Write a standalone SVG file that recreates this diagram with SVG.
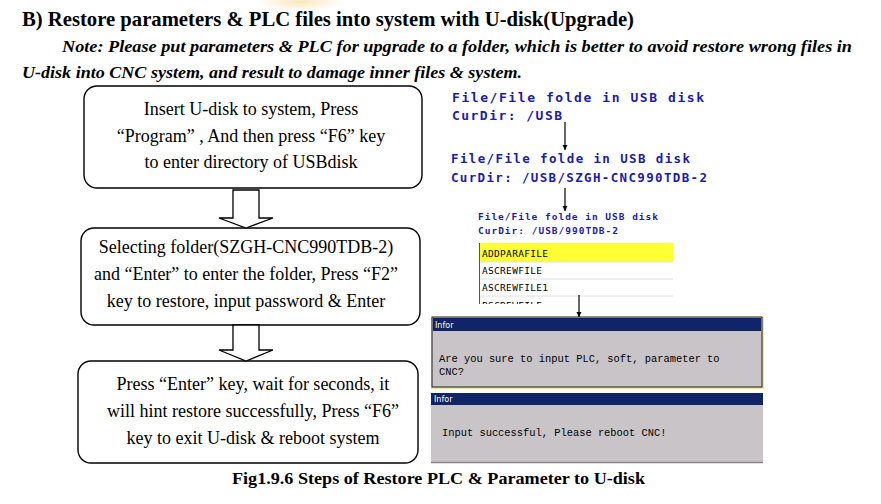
<svg xmlns="http://www.w3.org/2000/svg" width="881" height="504" viewBox="0 0 881 504">
<defs>
<style>
.hd{font-family:"Liberation Serif",serif;font-weight:bold;fill:#000}
.note{font-family:"Liberation Serif",serif;font-weight:bold;font-style:italic;font-size:17px;fill:#000}
.box{fill:#fff;stroke:#000;stroke-width:1.4}
.bt{font-family:"Liberation Serif",serif;font-size:18px;fill:#000;text-anchor:middle}
.blk{fill:#fff;stroke:#000;stroke-width:1.3}
.mono{font-family:"DejaVu Sans Mono",monospace;font-weight:bold;fill:#1c1ca8}
.lst{font-family:"DejaVu Sans Mono",monospace;font-size:9.5px;fill:#000}
.dlg{font-family:"Liberation Mono",monospace;font-size:10.4px;fill:#000}
.inf{font-family:"DejaVu Sans",sans-serif;font-size:8px;fill:#fff}
.con{stroke:#000;stroke-width:1.2;fill:none;marker-end:url(#ah)}
</style>
<marker id="ah" viewBox="0 0 10 10" refX="10" refY="5" markerWidth="5" markerHeight="6" orient="auto" markerUnits="userSpaceOnUse">
<path d="M0,0 L10,5 L0,10 z" fill="#000"/>
</marker>
<clipPath id="lc"><rect x="478" y="242" width="200" height="62"/></clipPath>
<radialGradient id="wm" cx="0.5" cy="0.5" r="0.5">
<stop offset="0" stop-color="#f8d890" stop-opacity="0.6"/>
<stop offset="1" stop-color="#f8d890" stop-opacity="0"/>
</radialGradient>
</defs>
<rect width="881" height="504" fill="#fff"/>
<ellipse cx="300" cy="2" rx="45" ry="9" fill="url(#wm)"/>

<g id="title">
<text class="hd" x="22" y="26" font-size="21" textLength="612" lengthAdjust="spacingAndGlyphs">B) Restore parameters &amp; PLC files into system with U-disk(Upgrade)</text>
<text class="note" x="62" y="52" textLength="790" lengthAdjust="spacingAndGlyphs">Note: Please put parameters &amp; PLC for upgrade to a folder, which is better to avoid restore wrong files in</text>
<text class="note" x="22" y="78" textLength="500" lengthAdjust="spacingAndGlyphs">U-disk into CNC system, and result to damage inner files &amp; system.</text>
</g>

<g id="step1">
<rect class="box" x="84" y="86" width="338" height="102" rx="13"/>
<text class="bt" x="251" y="115">Insert U-disk to system, Press</text>
<text class="bt" x="251" y="142">“Program” , And then press “F6” key</text>
<text class="bt" x="251" y="168">to enter directory of USBdisk</text>
</g>

<g id="step2">
<rect class="box" x="81" y="228" width="339" height="97" rx="13"/>
<text class="bt" x="246" y="253">Selecting folder(SZGH-CNC990TDB-2)</text>
<text class="bt" x="246" y="280">and “Enter” to enter the folder, Press “F2”</text>
<text class="bt" x="246" y="307">key to restore, input password &amp; Enter</text>
</g>

<g id="step3">
<rect class="box" x="78" y="361" width="340" height="102" rx="13"/>
<text class="bt" x="253" y="390">Press “Enter” key, wait for seconds, it</text>
<text class="bt" x="253" y="417">will hint restore successfully, Press “F6”</text>
<text class="bt" x="253" y="444">key to exit U-disk &amp; reboot system</text>
</g>

<g id="screen1">
<text class="mono" x="452" y="102" font-size="13" textLength="252" lengthAdjust="spacing">File/File folde in USB disk</text>
<text class="mono" x="452" y="120" font-size="13" textLength="110" lengthAdjust="spacing">CurDir: /USB</text>
</g>

<g id="screen2">
<text class="mono" x="451" y="163" font-size="12.5" textLength="239" lengthAdjust="spacing">File/File folde in USB disk</text>
<text class="mono" x="451" y="182" font-size="12.5" textLength="256" lengthAdjust="spacing">CurDir: /USB/SZGH-CNC990TDB-2</text>
</g>

<g id="screen3">
<text class="mono" x="478" y="220" font-size="9.5" textLength="180" lengthAdjust="spacing">File/File folde in USB disk</text>
<text class="mono" x="478" y="234" font-size="9.5" textLength="140" lengthAdjust="spacing">CurDir: /USB/990TDB-2</text>
<g clip-path="url(#lc)">
<rect x="479" y="243" width="194" height="19" fill="#ffff33"/>
<line x1="479" y1="262" x2="673" y2="262" stroke="#e0e0e0"/>
<line x1="479" y1="279" x2="673" y2="279" stroke="#e0e0e0"/>
<line x1="479" y1="296" x2="673" y2="296" stroke="#e0e0e0"/>
<line x1="479.5" y1="243" x2="479.5" y2="304" stroke="#555"/>
<text class="lst" x="482" y="257" textLength="66" lengthAdjust="spacing">ADDPARAFILE</text>
<text class="lst" x="482" y="274" textLength="60" lengthAdjust="spacing">ASCREWFILE</text>
<text class="lst" x="482" y="291" textLength="66" lengthAdjust="spacing">ASCREWFILE1</text>
<text class="lst" x="482" y="309" textLength="60" lengthAdjust="spacing">BSCREWFILE</text>
</g>
</g>

<g id="dialog1">
<rect x="431" y="317" width="333" height="72" fill="#e8e890"/>
<rect x="432" y="317" width="330" height="70" fill="#c8c4c8" stroke="#202020" stroke-width="1"/>
<rect x="433" y="318" width="328" height="13" fill="#102468"/>
<text class="inf" x="435" y="328">Infor</text>
<text class="dlg" x="439" y="362">Are you sure to input PLC, soft, parameter to</text>
<text class="dlg" x="439" y="375">CNC?</text>
</g>

<g id="dialog2">
<rect x="431" y="393" width="332" height="70" fill="#c8c4c8"/>
<rect x="431" y="393" width="332" height="12" fill="#102468"/>
<line x1="431" y1="462.5" x2="763" y2="462.5" stroke="#888" stroke-width="1.5"/>
<text class="inf" x="434" y="402">Infor</text>
<text class="dlg" x="442" y="436">Input successful, Please reboot CNC!</text>
</g>

<g id="connectors">
<polygon class="blk" points="233,190 259,190 259,218 273,218 246,228 219,218 233,218"/>
<polygon class="blk" points="233,325 259,325 259,350 273,350 246,361 219,350 233,350"/>
<line class="con" x1="565" y1="122" x2="565" y2="150"/>
<line class="con" x1="565" y1="188" x2="565" y2="211"/>
<line class="con" x1="579" y1="295" x2="579" y2="317"/>
</g>

<g id="caption">
<text class="hd" x="232" y="484" font-size="17" textLength="413" lengthAdjust="spacingAndGlyphs">Fig1.9.6 Steps of Restore PLC &amp; Parameter to U-disk</text>
</g>
</svg>
